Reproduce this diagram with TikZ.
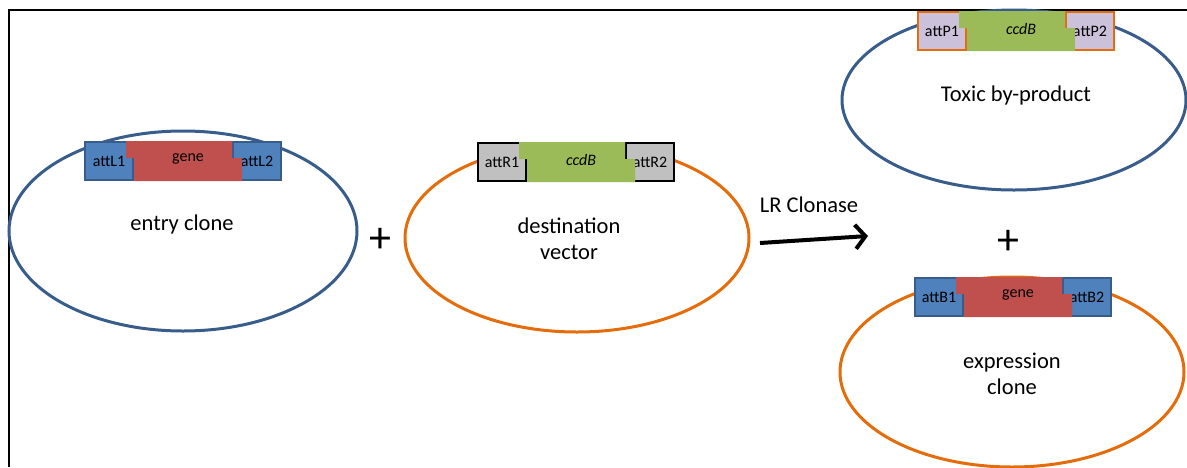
\documentclass[tikz,border=0pt]{standalone}
\usepackage{fontspec}
\setmainfont{Carlito}
\usetikzlibrary{positioning, shapes.geometric, arrows.meta}

\definecolor{lineblue}{HTML}{385D8A}
\definecolor{fillblue}{HTML}{4F81BD}
\definecolor{genered}{HTML}{C0504D}
\definecolor{ccdbgreen}{HTML}{9BBB59}
\definecolor{attgray}{HTML}{C0C0C0}
\definecolor{attlilac}{HTML}{CCC1DA}
\definecolor{lineorange}{HTML}{E46C0A}

\tikzset{
    plasmid/.style={ellipse, line width=3pt, inner sep=0pt, minimum width=344pt, minimum height=#1},
    bigtext/.style={font=\fontsize{22.5pt}{26pt}\selectfont, align=center, inner sep=0pt},
    plussign/.style={font=\fontsize{44pt}{44pt}\selectfont, inner sep=0pt},
    midtext/.style={font=\fontsize{16pt}{18pt}\selectfont, inner sep=0pt},
    attbox/.style={line width=2pt, inner sep=0pt, outer sep=0pt, minimum width=48pt, minimum height=38pt,
        font=\fontsize{16pt}{18pt}\selectfont},
    attL/.style={attbox, draw=lineblue, fill=fillblue},
    attR/.style={attbox, draw=black, fill=attgray},
    attP/.style={attbox, draw=lineorange, fill=attlilac},
}

% #1 name, #2 top left corner, #3 att style, #4 insert colour, #5 #6 #7 texts
\newcommand{\cassette}[7]{%
    \begin{scope}[shift={#2}]
        \node[#3, anchor=north west] (#1L) at (0,0) {#5};
        \node[#3, anchor=north west] (#1R) at (148,0) {#7};
        \fill[#4] (41,-1) -- (147,-1) -- (147,16) -- (157,16) -- (157,39)
            -- (49,39) -- (49,16) -- (41,16) -- cycle;
        \node[midtext] (#1M) at (103,17) {#6};
    \end{scope}
}

\begin{document}
\begin{tikzpicture}[x=1pt, y=-1pt]
    \useasboundingbox (0,0) rectangle (1187,467);
    \draw[line width=2pt] (9,467) |- (1187,10);

    % plasmids
    \node[plasmid=200pt, draw=lineblue, minimum width=348pt] (entry) at (183,231) {};
    \node[plasmid=188pt, draw=lineorange] (dest) at (577,238) {};
    \node[plasmid=180pt, draw=lineblue] (toxic) at (1014,100) {};
    \node[plasmid=190pt, draw=lineorange] (expr) at (1012,372) {};

    \cassette{entryc}{(85,142)}{attL}{genered}{attL1}{gene}{attL2}
    \cassette{destc}{(478,143)}{attR}{ccdbgreen}{attR1}{\textit{ccdB}}{attR2}
    \cassette{toxicc}{(918,12)}{attP}{ccdbgreen}{attP1}{\textit{ccdB}}{attP2}
    \cassette{exprc}{(915,278)}{attL}{genered}{attB1}{gene}{attB2}

    \node[bigtext] (entrylbl) at (182,224) {entry clone};
    \node[bigtext] (destlbl) at (569,239) {destination\\vector};
    \node[bigtext] (toxiclbl) at (1016,95) {Toxic by-product};
    \node[bigtext] (exprlbl) at (1012,374) {expression\\clone};

    \node[plussign] (plusA) at (380,240) {+};
    \node[plussign] (plusB) at (1008,242) {+};

    % reaction
    \coordinate (lrtail) at (760,243);
    \coordinate (lrhead) at (868,236);
    \draw[line width=4pt, -{Straight Barb[length=10pt, width=24pt]}] (lrtail) -- (lrhead);
    \node[bigtext] (lrlbl) at (809,205) {LR Clonase};
\end{tikzpicture}
\end{document}
